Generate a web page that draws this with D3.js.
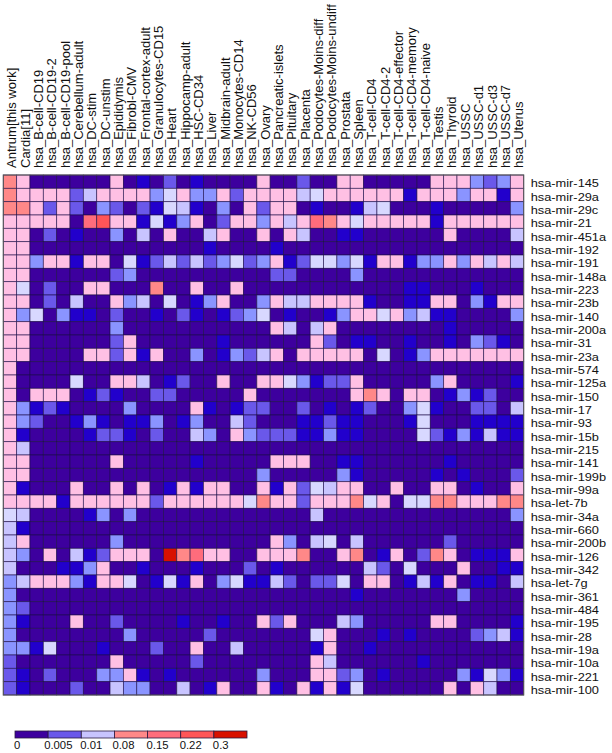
<!DOCTYPE html>
<html lang="en">
<head>
    <meta charset="UTF-8">
    <title>miRNA heatmap</title>
    <style>
        body { margin: 0; background: #fff; overflow: hidden; }
        text { font-family: "Liberation Sans", Arial, sans-serif; fill: #111; }
        .domain { display: none; }
    </style>
</head>
<body>

<svg id="chart" width="612" height="753"></svg>

<script src="https://cdnjs.cloudflare.com/ajax/libs/d3/7.8.5/d3.min.js"></script>
<script>
    const samples = ["Antrum[this work]", "Cardia[11]", "hsa_B-cell-CD19", "hsa_B-cell-CD19-2", "hsa_B-cell-CD19-pool",
        "hsa_Cerebellum-adult", "hsa_DC-stim", "hsa_DC-unstim", "hsa_Epididymis", "hsa_Fibrobl-CMV",
        "hsa_Frontal-cortex-adult", "hsa_Granulocytes-CD15", "hsa_Heart", "hsa_Hippocamp-adult", "hsa_HSC-CD34",
        "hsa_Liver", "hsa_Midbrain-adult", "hsa_Monocytes-CD14", "hsa_NK-CD56", "hsa_Ovary",
        "hsa_Pancreatic-islets", "hsa_Pituitary", "hsa_Placenta", "hsa_Podocytes-Moins-diff", "hsa_Podocytes-Moins-undiff",
        "hsa_Prostata", "hsa_Spleen", "hsa_T-cell-CD4", "hsa_T-cell-CD4-2", "hsa_T-cell-CD4-effector",
        "hsa_T-cell-CD4-memory", "hsa_T-cell-CD4-naive", "hsa_Testis", "hsa_Thyroid", "hsa_USSC",
        "hsa_USSC-d1", "hsa_USSC-d3", "hsa_USSC-d7", "hsa_Uterus"];

    const mirnas = ["hsa-mir-145", "hsa-mir-29a", "hsa-mir-29c", "hsa-mir-21", "hsa-mir-451a", "hsa-mir-192",
        "hsa-mir-191", "hsa-mir-148a", "hsa-mir-223", "hsa-mir-23b", "hsa-mir-140", "hsa-mir-200a", "hsa-mir-31",
        "hsa-mir-23a", "hsa-mir-574", "hsa-mir-125a", "hsa-mir-150", "hsa-mir-17", "hsa-mir-93", "hsa-mir-15b",
        "hsa-mir-215", "hsa-mir-141", "hsa-mir-199b", "hsa-mir-99a", "hsa-let-7b", "hsa-mir-34a", "hsa-mir-660",
        "hsa-mir-200b", "hsa-mir-126", "hsa-mir-342", "hsa-let-7g", "hsa-mir-361", "hsa-mir-484", "hsa-mir-195",
        "hsa-mir-28", "hsa-mir-19a", "hsa-mir-10a", "hsa-mir-221", "hsa-mir-100"];

    // estimated expression of each shade seen in the picture, the code in "cells" is an index in here
    const shadeValues = [0, 0.001, 0.005, 0.0075, 0.01, 0.02, 0.05, 0.08, 0.15, 0.22, 0.3];
    const shadeColors = ["#3d009e", "#2200cc", "#6a58ea", "#8a94ff", "#c8c4ff", "#d8d8ff", "#ffc0e4",
        "#ff8888", "#ff6c7c", "#ff5558", "#d81000"];

    // one string per miRNA, one character per sample (a = 10)
    const cells = [
        "760000006010201000060020066000006663236",
        "766662466663563362666645666666166636616",
        "776262032021541030626601001450001000003",
        "666660896615136026636468765666661666666",
        "660201003040600460060640011000000600004",
        "660000000000000100001000000000000000000",
        "663661660512424235236125535166133636464",
        "660000002300000000002200003000000000000",
        "650200660007006006000000000000110001000",
        "660204006340501360036446666100116603166",
        "635031102001021012350100136656341100003",
        "660000003000000000006404600000000100000",
        "660000002600000010000006201100100103210",
        "660000662616003013246066666050136666666",
        "600000000000000000000000000000000000000",
        "600005006640120060066531226000003600001",
        "606660121002200000600000006760660131200",
        "631210000300006101220020101200351002204",
        "632001310113013004200011211000150001111",
        "610000122102004306322211311000052131411",
        "640000000000000000000000000000000000000",
        "660000006000001000006660011000000100000",
        "660000000000000000030000031000001010002",
        "610006006060161660061625466006006601006",
        "666616666662666666576626667560557766677",
        "540000130300000000000004000000000000003",
        "410000000000000000000000000000000000000",
        "460000003000000000006304504000000200000",
        "430604126660a78660066670067016027601116",
        "400011360010001000201000000420500060011",
        "346663166501516035114202250660141601104",
        "300000000000000000000000001000000030000",
        "320000000000000000000000000000000000000",
        "310006002000010010062600043000006600001",
        "300000000300000200000005600010100002341",
        "331500010002006004000001600100000000000",
        "200000006000002000000006400000010000000",
        "210200033610100000030006623010000031531",
        "210002004330040160061061615000000606400"
    ];

    const legendLabels = ["0", "0.005", "0.01", "0.08", "0.15", "0.22", "0.3"];
    const legendValues = [0, 0.005, 0.01, 0.08, 0.15, 0.22, 0.3];

    const svg = d3.select("#chart");

    const x = d3.scaleBand().domain(samples).range([3.3, 523.7]);
    const y = d3.scaleBand().domain(mirnas).range([175, 695]);
    const color = d3.scaleOrdinal().domain(shadeValues).range(shadeColors);

    const table = [];
    cells.forEach(function(row, r) {
        row.split("").forEach(function(code, c) {
            table.push({mirna: mirnas[r], sample: samples[c], value: shadeValues[parseInt(code, 16)]});
        });
    });

    svg.append("g").selectAll("rect")
        .data(table)
        .join("rect")
        .attr("x", d => x(d.sample))
        .attr("y", d => y(d.mirna))
        .attr("width", x.bandwidth())
        .attr("height", y.bandwidth())
        .attr("fill", d => color(d.value))
        .attr("stroke", "#1c0c48")
        .attr("stroke-opacity", 0.75)
        .attr("stroke-width", 0.8);

    // outer frame
    svg.append("rect")
        .attr("x", 3.3).attr("y", 175)
        .attr("width", 520.4).attr("height", 520)
        .attr("fill", "none")
        .attr("stroke", "#555")
        .attr("stroke-width", 1);

    // sample names on top
    const topAxis = svg.append("g")
        .attr("transform", "translate(1.5,175)")
        .call(d3.axisTop(x).tickSize(0).tickPadding(0));
    topAxis.selectAll("line").remove();
    topAxis.selectAll("text")
        .attr("transform", "rotate(-90)")
        .attr("text-anchor", "start")
        .attr("x", 7)
        .attr("y", 0)
        .attr("dy", "0.36em")
        .attr("font-size", 13);

    // miRNA names on the right, smaller so the rows do not touch, widened back to the original length
    const rightAxis = svg.append("g")
        .attr("transform", "translate(523.7,0)")
        .call(d3.axisRight(y).tickSize(0).tickPadding(7));
    rightAxis.selectAll("line").remove();
    rightAxis.selectAll("text")
        .attr("dy", "0.5em")
        .attr("font-size", 11.5)
        .each(function() {
            d3.select(this)
                .attr("lengthAdjust", "spacingAndGlyphs")
                .attr("textLength", this.getComputedTextLength() * 12.8 / 11.5);
        });

    // colour key
    const legendX = d3.scaleBand().domain(legendValues).range([15, 247]);
    svg.append("g").selectAll("rect")
        .data(legendValues)
        .join("rect")
        .attr("x", d => legendX(d))
        .attr("y", 731)
        .attr("width", legendX.bandwidth())
        .attr("height", 7)
        .attr("fill", (d, i) => ["#3d009e", "#6a58ea", "#c8c4ff", "#ff8888", "#ff6c7c", "#ff5558", "#d81000"][i])
        .attr("stroke", "#2a1a40")
        .attr("stroke-width", 0.8);

    svg.append("g").selectAll("text")
        .data(legendLabels)
        .join("text")
        .attr("x", (d, i) => legendX(legendValues[i]) - (d === "0.005" ? 4 : d === "0.08" ? 2 : 1))
        .attr("y", 749)
        .attr("font-size", 11.3)
        .text(d => d);
</script>

</body>
</html>
